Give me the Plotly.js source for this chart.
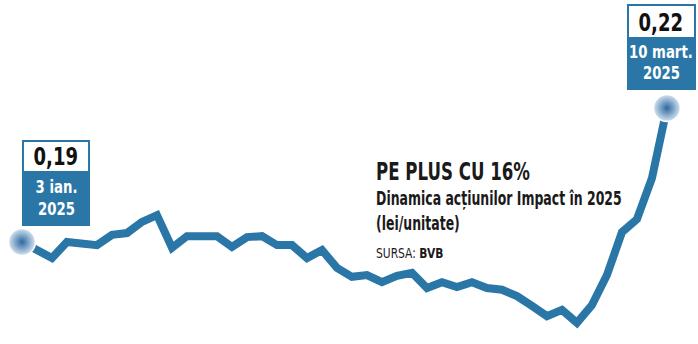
<!DOCTYPE html>
<html>
<head>
<meta charset="utf-8">
<script src="https://cdn.plot.ly/plotly-3.0.1.min.js"></script>
<style>html,body{margin:0;padding:0;background:#fff;}#chart{width:698px;height:344px;}</style>
</head>
<body>
<div id="chart"></div>
<script>
// Trading days (BVB) from 3 Jan 2025 to 10 Mar 2025
const dates = [
  "2025-01-03","2025-01-08","2025-01-09","2025-01-10","2025-01-13","2025-01-14","2025-01-15",
  "2025-01-16","2025-01-17","2025-01-20","2025-01-21","2025-01-22","2025-01-23","2025-01-27",
  "2025-01-28","2025-01-29","2025-01-30","2025-01-31","2025-02-03","2025-02-04","2025-02-05",
  "2025-02-06","2025-02-07","2025-02-10","2025-02-11","2025-02-12","2025-02-13","2025-02-14",
  "2025-02-17","2025-02-18","2025-02-19","2025-02-20","2025-02-21","2025-02-24","2025-02-25",
  "2025-02-26","2025-02-27","2025-02-28","2025-03-03","2025-03-04","2025-03-05","2025-03-06",
  "2025-03-07","2025-03-10"
];
// Price (lei/unitate)
const prices = [
  0.1900,0.1882,0.1864,0.1900,0.1896,0.1893,0.1916,0.1920,0.1945,0.1960,
  0.1887,0.1913,0.1913,0.1913,0.1889,0.1911,0.1913,0.1893,0.1893,0.1864,
  0.1882,0.1842,0.1822,0.1826,0.1810,0.1824,0.1831,0.1797,0.1810,0.1799,
  0.1810,0.1797,0.1793,0.1779,0.1757,0.1734,0.1748,0.1719,0.1759,0.1826,
  0.1922,0.1951,0.2043,0.2200
];
const startLabel = ["3 ian.", "2025"];
const endLabel = ["10 mart.", "2025"];
const titleText = "PE PLUS CU 16%";
const subtitleText = "Dinamica acțiunilor Impact în 2025";
const unitText = "(lei/unitate)";
const sourceLabel = "SURSA:";
const sourceName = "BVB";

const W = 698, H = 344;
const BLUE = "#2a77a7";
const FONT = "DejaVu Sans Condensed, Liberation Sans Narrow, sans-serif";
const X = px => px / W;
const Y = py => 1 - py / H;
const fmt = v => v.toFixed(2).replace(".", ",");

const idx = dates.map((d, i) => i);
const last = prices.length - 1;

const traces = [
  {
    x: idx, y: prices, type: "scatter", mode: "lines",
    line: {color: BLUE, width: 8, shape: "linear"},
    text: dates, hoverinfo: "text+y"
  },
  {
    x: [idx[0], idx[last]], y: [prices[0], prices[last]],
    type: "scatter", mode: "markers", cliponaxis: false,
    marker: {size: 27, color: "#d6e4f1",
      gradient: {type: "radial", color: "#2c68a0"},
      line: {color: "#ffffff", width: 1.5}},
    hoverinfo: "skip"
  }
];

function box(x0, x1, y0, ysplit, y1) {
  return [
    {type: "rect", xref: "paper", yref: "paper", x0: X(x0), x1: X(x1), y0: Y(y1), y1: Y(y0),
     fillcolor: "#ffffff", line: {color: BLUE, width: 2}, layer: "above"},
    {type: "rect", xref: "paper", yref: "paper", x0: X(x0), x1: X(x1), y0: Y(y1), y1: Y(ysplit),
     fillcolor: BLUE, line: {color: BLUE, width: 2}, layer: "above"}
  ];
}

// horizontal squeeze applied to each annotation after drawing (narrow newspaper font)
const squeeze = [];
function ann(text, px, py, size, color, weight, xanchor, sx) {
  squeeze.push({s: sx, left: xanchor === "left"});
  return {text: text, xref: "paper", yref: "paper", x: X(px), y: Y(py),
    xanchor: xanchor || "center", yanchor: "middle", showarrow: false,
    font: {family: FONT, size: size, color: color, weight: weight || "bold", stretch: "condensed"}};
}

const layout = {
  width: W, height: H,
  margin: {l: 0, r: 0, t: 0, b: 0},
  paper_bgcolor: "#ffffff", plot_bgcolor: "#ffffff",
  showlegend: false,
  xaxis: {visible: false, range: [-1.467, 45.07], fixedrange: true},
  yaxis: {visible: false, range: [0.16716, 0.24418], fixedrange: true},
  shapes: [].concat(box(23, 89, 141, 172, 225), box(628, 695, 5, 38, 89)),
  annotations: [
    ann(fmt(prices[0]), 56, 157, 25, "#111111", "bold", "center", 0.8),
    ann(startLabel[0], 56, 186, 18, "#ffffff", "bold", "center", 0.82),
    ann(startLabel[1], 56, 208, 18, "#ffffff", "bold", "center", 0.82),
    ann(fmt(prices[last]), 661, 22, 25, "#111111", "bold", "center", 0.8),
    ann(endLabel[0], 661, 51, 18, "#ffffff", "bold", "center", 0.82),
    ann(endLabel[1], 661, 72, 18, "#ffffff", "bold", "center", 0.82),
    ann(titleText, 374, 172, 24, "#1a1a1a", "bold", "left", 0.77),
    ann(subtitleText, 374, 198, 19, "#1a1a1a", "bold", "left", 0.73),
    ann(unitText, 374, 223, 19, "#1a1a1a", "bold", "left", 0.73),
    ann(sourceLabel + " <b>" + sourceName + "</b>", 374, 253, 14, "#1a1a1a", "normal", "left", 0.85)
  ]
};

Plotly.newPlot("chart", traces, layout, {displayModeBar: false, staticPlot: true}).then(gd => {
  gd.querySelectorAll("g.annotation").forEach(g => {
    const i = +g.getAttribute("data-index");
    const t = g.querySelector("text.annotation-text");
    if (!t || !squeeze[i]) return;
    const bb = t.getBBox();
    const ox = squeeze[i].left ? bb.x : bb.x + bb.width / 2;
    const s = squeeze[i].s;
    t.setAttribute("transform", `translate(${ox},0) scale(${s},1) translate(${-ox},0)`);
  });
});
</script>
</body>
</html>
